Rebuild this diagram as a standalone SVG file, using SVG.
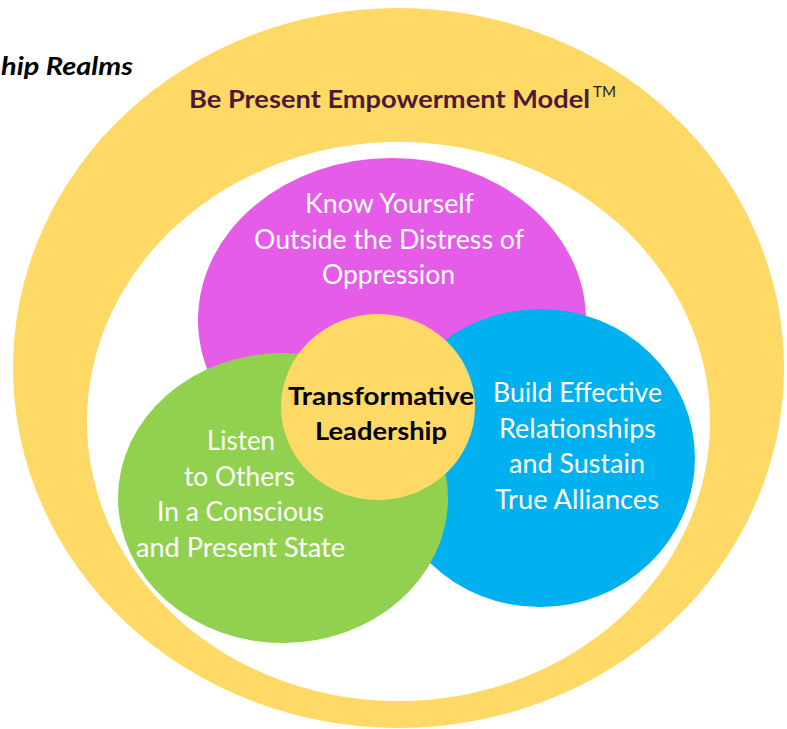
<svg xmlns="http://www.w3.org/2000/svg" width="787" height="729" viewBox="0 0 787 729">
<style>
.lbl{font-family:Lato,"Open Sans","Liberation Sans",sans-serif;font-size:26px;fill:#FFFFFF;text-anchor:middle}
.ctr{font-family:Lato,"Open Sans","Liberation Sans",sans-serif;font-size:25px;font-weight:bold;fill:#000000;text-anchor:middle}
.ttl{font-family:Lato,"Open Sans","Liberation Sans",sans-serif;font-size:25px;font-weight:bold;fill:#4C1A37}
</style>
<rect width="787" height="729" fill="#FFFFFF"/>
<g id="outer-ring">
<ellipse cx="398.5" cy="368" rx="385.5" ry="360" fill="#FFD966"/>
<ellipse cx="398.5" cy="421.5" rx="311.5" ry="279.5" fill="#FFFFFF"/>
</g>
<g id="header">
<text x="1" y="75" font-family="Lato,'Open Sans','Liberation Sans',sans-serif" font-size="25" font-weight="bold" font-style="italic" fill="#000000" textLength="132" lengthAdjust="spacingAndGlyphs">hip Realms</text>
<text class="ttl" x="189" y="108" textLength="401" lengthAdjust="spacingAndGlyphs">Be Present Empowerment Model</text>
<text x="593" y="97" font-family="Lato,'Open Sans','Liberation Sans',sans-serif" font-size="15" fill="#1A1A1A" textLength="23" lengthAdjust="spacingAndGlyphs">TM</text>
</g>
<g id="know-yourself">
<ellipse cx="392" cy="320" rx="194" ry="162" fill="#E45CE8"/>
<text class="lbl" x="389.5" y="213" textLength="169" lengthAdjust="spacingAndGlyphs">Know Yourself</text>
<text class="lbl" x="389" y="248.5" textLength="270" lengthAdjust="spacingAndGlyphs">Outside the Distress of</text>
<text class="lbl" x="388.5" y="284" textLength="133" lengthAdjust="spacingAndGlyphs">Oppression</text>
</g>
<g id="build-relationships">
<ellipse cx="540" cy="458" rx="155" ry="149" fill="#00B0EF"/>
<text class="lbl" x="577.5" y="402" textLength="169" lengthAdjust="spacingAndGlyphs">Build Effective</text>
<text class="lbl" x="577.5" y="437.5" textLength="157" lengthAdjust="spacingAndGlyphs">Relationships</text>
<text class="lbl" x="577" y="473" textLength="136" lengthAdjust="spacingAndGlyphs">and Sustain</text>
<text class="lbl" x="577" y="508.5" textLength="164" lengthAdjust="spacingAndGlyphs">True Alliances</text>
</g>
<g id="listen">
<ellipse cx="283" cy="498" rx="165" ry="145" fill="#92D050"/>
<text class="lbl" x="241" y="450" textLength="68" lengthAdjust="spacingAndGlyphs">Listen</text>
<text class="lbl" x="239.5" y="485.5" textLength="111" lengthAdjust="spacingAndGlyphs">to Others</text>
<text class="lbl" x="240.5" y="521" textLength="167" lengthAdjust="spacingAndGlyphs">In a Conscious</text>
<text class="lbl" x="240.5" y="557" textLength="209" lengthAdjust="spacingAndGlyphs">and Present State</text>
</g>
<g id="transformative-leadership">
<ellipse cx="378" cy="407" rx="97" ry="93" fill="#FFD966"/>
<text class="ctr" x="381" y="405" textLength="186" lengthAdjust="spacingAndGlyphs">Transformative</text>
<text class="ctr" x="381" y="440" textLength="132" lengthAdjust="spacingAndGlyphs">Leadership</text>
</g>
</svg>
